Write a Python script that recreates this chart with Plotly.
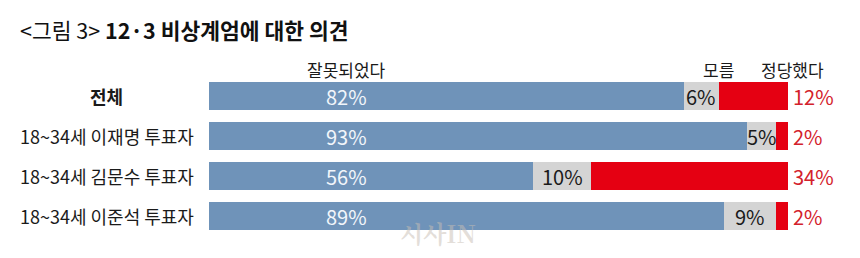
import plotly.graph_objects as go

categories = ["전체", "18~34세 이재명 투표자", "18~34세 김문수 투표자", "18~34세 이준석 투표자"]
wrong = [82, 93, 56, 89]
unknown = [6, 5, 10, 9]
justified = [12, 2, 34, 2]
series_names = ["잘못되었다", "모름", "정당했다"]
title_prefix = "<그림 3>"
title_main = "12·3 비상계엄에 대한 의견"

FONT = "Noto Sans CJK KR"
BLUE = "#6f93b9"
GREY = "#d4d4d4"
RED = "#e50012"
RED_TXT = "#d3212b"

fig = go.Figure()
fig.add_trace(go.Bar(y=categories, x=wrong, orientation="h", marker=dict(color=BLUE, line=dict(width=0)),
                     name=series_names[0], hoverinfo="x"))
fig.add_trace(go.Bar(y=categories, x=unknown, orientation="h", marker=dict(color=GREY, line=dict(width=0)),
                     name=series_names[1], hoverinfo="x"))
fig.add_trace(go.Bar(y=categories, x=justified, orientation="h", marker=dict(color=RED, line=dict(width=0)),
                     name=series_names[2], hoverinfo="x"))

ann = []
for i, cat in enumerate(categories):
    # category label
    ann.append(dict(x=-0.1762, y=cat, xref="paper", yref="y", text=("<b>%s</b>" % cat) if i == 0 else cat,
                    showarrow=False, xanchor="center", yanchor="middle",
                    font=dict(family=FONT, size=18, color="#1a1a1a")))
    # blue value
    ann.append(dict(x=23.7, y=cat, xref="x", yref="y", text="%d%%" % wrong[i], showarrow=False,
                    xanchor="center", yanchor="middle", font=dict(family=FONT, size=20, color="#f2f6fb")))
    # grey value
    ann.append(dict(x=wrong[i] + unknown[i] / 2, y=cat, xref="x", yref="y", text="%d%%" % unknown[i],
                    showarrow=False, xanchor="center", yanchor="middle",
                    font=dict(family=FONT, size=20, color="#1a1a1a")))
    # red value (outside)
    ann.append(dict(x=wrong[i] + unknown[i] + justified[i], y=cat, xref="x", yref="y",
                    text="%d%%" % justified[i], showarrow=False, xanchor="left", yanchor="middle", xshift=3,
                    font=dict(family=FONT, size=20, color=RED_TXT)))

# headers
hdr_y = 1.0375
ann.append(dict(x=23.8, y=hdr_y, xref="x", yref="paper", text=series_names[0], showarrow=False,
                xanchor="center", yanchor="middle", font=dict(family=FONT, size=17, color="#1a1a1a")))
ann.append(dict(x=(wrong[0] + unknown[0]) / 100, y=hdr_y, xref="paper", yref="paper", text=series_names[1],
                showarrow=False, xanchor="center", yanchor="middle", font=dict(family=FONT, size=17, color="#1a1a1a")))
ann.append(dict(x=1.0086, y=hdr_y, xref="paper", yref="paper", text=series_names[2], showarrow=False,
                xanchor="center", yanchor="middle", font=dict(family=FONT, size=17, color="#1a1a1a")))

# watermark
ann.append(dict(x=39.5, y=categories[3], xref="x", yref="y", text="<b>시사IN</b>", showarrow=False,
                xanchor="center", yanchor="middle", yshift=-16,
                font=dict(family="Noto Serif CJK KR, serif", size=24, color="rgba(200,190,180,0.5)")))

fig.update_layout(
    width=860, height=258,
    margin=dict(l=209, r=72, t=76, b=22),
    paper_bgcolor="white", plot_bgcolor="white",
    barmode="stack", bargap=0.29, showlegend=False,
    title=dict(text="%s <b>%s</b>" % (title_prefix.replace("<", "&lt;").replace(">", "&gt;"), title_main),
               x=20 / 860, xanchor="left", xref="container",
               y=1 - 31 / 258, yanchor="middle", yref="container",
               font=dict(family=FONT, size=21.5, color="#111111")),
    xaxis=dict(range=[0, 100], visible=False, fixedrange=True),
    yaxis=dict(categoryorder="array", categoryarray=categories, autorange="reversed",
               visible=False, fixedrange=True),
    annotations=ann,
)

fig.write_html("out.html")
